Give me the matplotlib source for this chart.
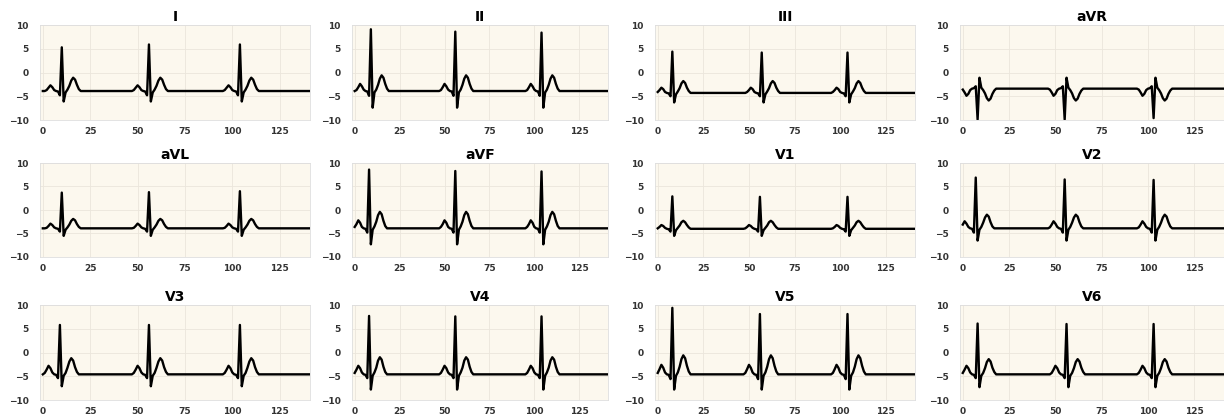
import matplotlib
matplotlib.use('Agg')
import matplotlib.pyplot as plt
import numpy as np

N = 142
leads = ['I', 'II', 'III', 'aVR', 'aVL', 'aVF', 'V1', 'V2', 'V3', 'V4', 'V5', 'V6']

baseline = [-3.9, -3.9, -4.3, -3.4, -3.9, -3.9, -4.0, -3.9, -4.6, -4.6, -4.6, -4.6]

# sample index of each R spike, and its height
r_pos = [[10, 56, 104], [9, 56, 104], [8, 57, 104], [8, 55, 103],
         [10, 56, 104], [8, 56, 104], [8, 56, 104], [7, 55, 103],
         [9, 56, 104], [8, 56, 104], [8, 56, 104], [8, 56, 103]]
r_height = [[5.3, 5.9, 5.9], [9.1, 8.6, 8.4], [4.4, 4.2, 4.2], [-9.9, -9.9, -9.6],
            [3.7, 3.8, 4.0], [8.6, 8.3, 8.2], [2.9, 2.8, 2.8], [6.9, 6.5, 6.4],
            [5.8, 5.8, 5.8], [7.7, 7.6, 7.6], [9.4, 8.1, 8.1], [6.1, 6.0, 6.0]]

# one beat per lead, from 8 samples before R to 12 after (R itself comes from r_height)
beat_I   = [-3.7, -3.2, -2.7, -3.1, -3.7, -3.9, -4.0, -4.8, 0, -6.1, -4.2, -3.6, -2.8, -1.7, -1.1, -1.5, -2.6, -3.5, -3.9, -3.9, -3.9]
beat_II  = [-3.7, -3.1, -2.4, -2.9, -3.6, -3.9, -4.0, -4.9, 0, -7.4, -4.2, -3.6, -2.6, -1.3, -0.6, -1.1, -2.4, -3.4, -3.9, -3.9, -3.9]
beat_III = [-4.1, -3.7, -3.2, -3.5, -4.1, -4.3, -4.4, -5.0, 0, -6.3, -4.6, -4.0, -3.3, -2.3, -1.8, -2.2, -3.2, -3.9, -4.3, -4.3, -4.3]
beat_aVR = [-3.6, -4.2, -4.9, -4.5, -3.7, -3.4, -3.3, -2.9, 0, -1.1, -3.2, -3.7, -4.4, -5.4, -5.9, -5.5, -4.5, -3.8, -3.4, -3.4, -3.4]
beat_aVL = [-3.8, -3.4, -2.9, -3.2, -3.7, -3.9, -4.0, -4.6, 0, -5.5, -4.2, -3.7, -3.1, -2.3, -1.9, -2.2, -3.0, -3.6, -3.9, -3.9, -3.9]
beat_aVF = [-3.6, -3.0, -2.2, -2.7, -3.6, -3.9, -4.0, -4.8, 0, -7.3, -4.2, -3.5, -2.5, -1.1, -0.4, -0.9, -2.3, -3.4, -3.9, -3.9, -3.9]
beat_V1  = [-3.9, -3.6, -3.2, -3.4, -3.8, -4.0, -4.1, -4.6, 0, -5.5, -4.3, -3.8, -3.3, -2.6, -2.3, -2.6, -3.2, -3.7, -4.0, -4.0, -4.0]
beat_V2  = [-3.7, -3.1, -2.4, -2.9, -3.6, -3.9, -4.0, -4.8, 0, -6.5, -4.2, -3.6, -2.7, -1.6, -1.0, -1.4, -2.6, -3.5, -3.9, -3.9, -3.9]
beat_V3  = [-4.3, -3.6, -2.8, -3.3, -4.2, -4.6, -4.7, -5.4, 0, -7.1, -4.9, -4.3, -3.2, -1.9, -1.2, -1.7, -3.1, -4.1, -4.6, -4.6, -4.6]
beat_V4  = [-4.3, -3.6, -2.8, -3.3, -4.2, -4.6, -4.7, -5.4, 0, -7.8, -4.9, -4.2, -3.2, -1.7, -1.0, -1.5, -3.0, -4.1, -4.6, -4.6, -4.6]
beat_V5  = [-4.3, -3.5, -2.6, -3.2, -4.2, -4.6, -4.7, -5.6, 0, -7.8, -4.9, -4.2, -3.0, -1.4, -0.6, -1.2, -2.8, -4.0, -4.6, -4.6, -4.6]
beat_V6  = [-4.3, -3.6, -2.8, -3.3, -4.2, -4.6, -4.7, -5.4, 0, -7.3, -4.9, -4.3, -3.3, -2.0, -1.4, -1.9, -3.2, -4.1, -4.6, -4.6, -4.6]
beats = [beat_I, beat_II, beat_III, beat_aVR, beat_aVL, beat_aVF,
         beat_V1, beat_V2, beat_V3, beat_V4, beat_V5, beat_V6]

# axes frames in pixels of the 1224x415 picture
W, H = 1224, 415
col_px = [(40, 310), (352, 608), (655, 915), (960, 1224)]
row_px = [(25, 120), (163, 257), (305, 400)]

fig = plt.figure(figsize=(W / 100, H / 100), dpi=100)
fig.patch.set_facecolor('white')

for i, name in enumerate(leads):
    sig = np.full(N, baseline[i])
    for k, r in enumerate(r_pos[i]):
        for j, v in enumerate(beats[i]):
            idx = r - 8 + j
            if 0 <= idx < N:
                sig[idx] = v
        sig[r] = r_height[i][k]

    l, r_ = col_px[i % 4]
    t, b = row_px[i // 4]
    ax = fig.add_axes([l / W, 1 - b / H, (r_ - l) / W, (b - t) / H])
    ax.set_facecolor('#fcf8ee')
    ax.plot(np.arange(N), sig, color='black', lw=1.7)
    ax.set_xlim(-1.5, 141)
    ax.set_ylim(-10, 10)
    ax.set_xticks([0, 25, 50, 75, 100, 125])
    ax.set_yticks([-10, -5, 0, 5, 10])
    ax.grid(True, color='#ebe6dc', lw=0.6)
    ax.set_axisbelow(True)
    ax.tick_params(axis='y', length=0, pad=8, labelsize=6.5, labelcolor='#333333')
    ax.tick_params(axis='x', length=0, pad=5, labelsize=6.5, labelcolor='#333333')
    for lab in ax.get_xticklabels() + ax.get_yticklabels():
        lab.set_fontweight('bold')
    for s in ax.spines.values():
        s.set_color('#dedede')
        s.set_linewidth(0.6)
    ax.set_title(name, fontsize=10, fontweight='bold', pad=3)

plt.savefig('out.png', dpi=100)
plt.close()
